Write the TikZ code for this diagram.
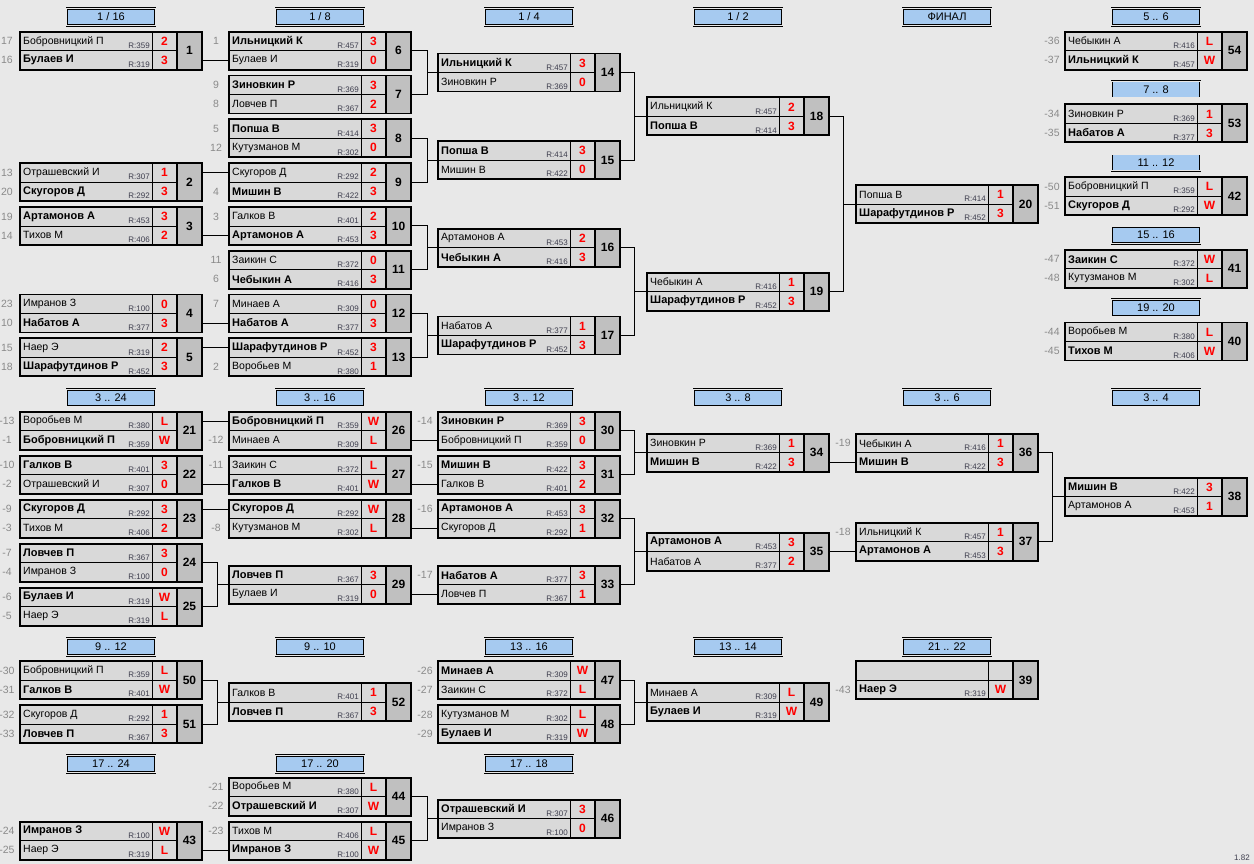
\documentclass[tikz,border=0pt]{standalone}
\usepackage{fontspec}
\setmainfont{Liberation Sans}
\usetikzlibrary{positioning}

\definecolor{bgcol}{HTML}{E8E8E8}
\definecolor{cellcol}{HTML}{D9D9D9}
\definecolor{numcol}{HTML}{C0C0C0}
\definecolor{hdrcol}{HTML}{A6CAF0}
\definecolor{seedcol}{HTML}{8A8A8A}
\definecolor{ratcol}{HTML}{3C3C4C}

\tikzset{
  mbox/.style={rectangle, minimum width=182pt, minimum height=38pt, inner sep=0pt, outer sep=0pt},
  namecell/.style={rectangle, draw=black, line width=0.8pt, fill=cellcol, minimum width=132pt, minimum height=19pt, inner sep=0pt, outer sep=0pt},
  scorecell/.style={rectangle, draw=black, line width=0.8pt, fill=cellcol, minimum width=25pt, minimum height=19pt, inner sep=0pt, outer sep=0pt},
  numcell/.style={rectangle, draw=black, line width=1.8pt, fill=numcol, minimum width=25pt, minimum height=38pt, inner sep=0pt, outer sep=0pt, font=\fontsize{12}{13}\selectfont\bfseries},
  boxline/.style={draw=black, line width=1.8pt},
  pname/.style={anchor=west, inner sep=0pt, font=\fontsize{10.5}{12}\selectfont},
  pwin/.style={anchor=west, inner sep=0pt, font=\fontsize{11}{12}\selectfont\bfseries},
  rating/.style={anchor=south east, inner sep=0pt, text=ratcol, font=\fontsize{8}{9}\selectfont},
  score/.style={inner sep=0pt, text=red, font=\fontsize{12}{13}\selectfont\bfseries},
  seednum/.style={inner sep=0pt, text=seedcol, font=\fontsize{10.5}{12}\selectfont},
  hdr/.style={rectangle, draw=black, line width=0.6pt, double=bgcol, double distance=1.2pt, fill=hdrcol, minimum width=88.5pt, minimum height=16.8pt, inner sep=0pt, font=\fontsize{11}{12}\selectfont},
  conn/.style={draw=black, line width=0.9pt}
}

% match box: id, x, y (top left), number
\newcommand{\match}[4]{%
  \node[mbox, anchor=north west] (#1) at (#2,#3) {};
  \node[namecell, anchor=north west] (#1a) at (#1.north west) {};
  \node[namecell, anchor=south west] (#1b) at (#1.south west) {};
  \node[scorecell, anchor=west] (#1as) at (#1a.east) {};
  \node[scorecell, anchor=west] (#1bs) at (#1b.east) {};
  \node[numcell, anchor=north east] (#1n) at (#1.north east) {#4};
  \draw[boxline] (#1.north west) rectangle (#1.south east);
}
% player rows: id, row, seed, name, rating, score
\newcommand{\pl}[6]{%
  \node[seednum] (#1#2k) at ([xshift=-13pt]#1#2.west) {#3};
  \node[pname] (#1#2t) at ([xshift=3pt]#1#2.west) {#4};
  \node[rating] (#1#2r) at ([xshift=-2pt,yshift=2pt]#1#2.south east) {R:#5};
  \node[score] (#1#2p) at (#1#2s) {#6};
}
\newcommand{\pw}[6]{%
  \node[seednum] (#1#2k) at ([xshift=-13pt]#1#2.west) {#3};
  \node[pwin] (#1#2t) at ([xshift=3pt]#1#2.west) {#4};
  \node[rating] (#1#2r) at ([xshift=-2pt,yshift=2pt]#1#2.south east) {R:#5};
  \node[score] (#1#2p) at (#1#2s) {#6};
}

\begin{document}
\begin{tikzpicture}[x=1pt, y=-1pt]
  \fill[bgcol] (0,0) rectangle (1254,864);
  \useasboundingbox (0,0) rectangle (1254,864);

  % headers
  \node[hdr] (h1) at (111,17) {1 / 16};
  \node[hdr] (h2) at (320,17) {1 / 8};
  \node[hdr] (h3) at (529,17) {1 / 4};
  \node[hdr] (h4) at (738,17) {1 / 2};
  \node[hdr] (h5) at (947,17) {ФИНАЛ};
  \node[hdr] (h6) at (1156,17) {5 .. 6};
  \node[hdr] (h7) at (1156,89.7) {7 .. 8};
  \node[hdr] (h8) at (1156,162.4) {11 .. 12};
  \node[hdr] (h9) at (1156,235.1) {15 .. 16};
  \node[hdr] (h10) at (1156,307.8) {19 .. 20};
  \node[hdr] (h11) at (111,397.7) {3 .. 24};
  \node[hdr] (h12) at (320,397.7) {3 .. 16};
  \node[hdr] (h13) at (529,397.7) {3 .. 12};
  \node[hdr] (h14) at (738,397.7) {3 .. 8};
  \node[hdr] (h15) at (947,397.7) {3 .. 6};
  \node[hdr] (h16) at (1156,397.7) {3 .. 4};
  \node[hdr] (h17) at (111,647) {9 .. 12};
  \node[hdr] (h18) at (320,647) {9 .. 10};
  \node[hdr] (h19) at (529,647) {13 .. 16};
  \node[hdr] (h20) at (738,647) {13 .. 14};
  \node[hdr] (h21) at (947,647) {21 .. 22};
  \node[hdr] (h22) at (111,764) {17 .. 24};
  \node[hdr] (h23) at (320,764) {17 .. 20};
  \node[hdr] (h24) at (529,764) {17 .. 18};

  % upper bracket
  \match{m1}{20}{31.7}{1}
  \pl{m1}{a}{17}{Бобровницкий П}{359}{2}
  \pw{m1}{b}{16}{Булаев И}{319}{3}
  \match{m2}{20}{163.1}{2}
  \pl{m2}{a}{13}{Отрашевский И}{307}{1}
  \pw{m2}{b}{20}{Скугоров Д}{292}{3}
  \match{m3}{20}{206.9}{3}
  \pw{m3}{a}{19}{Артамонов А}{453}{3}
  \pl{m3}{b}{14}{Тихов М}{406}{2}
  \match{m4}{20}{294.5}{4}
  \pl{m4}{a}{23}{Имранов З}{100}{0}
  \pw{m4}{b}{10}{Набатов А}{377}{3}
  \match{m5}{20}{338.3}{5}
  \pl{m5}{a}{15}{Наер Э}{319}{2}
  \pw{m5}{b}{18}{Шарафутдинов Р}{452}{3}

  \match{m6}{229}{31.7}{6}
  \pw{m6}{a}{1}{Ильницкий К}{457}{3}
  \pl{m6}{b}{}{Булаев И}{319}{0}
  \match{m7}{229}{75.5}{7}
  \pw{m7}{a}{9}{Зиновкин Р}{369}{3}
  \pl{m7}{b}{8}{Ловчев П}{367}{2}
  \match{m8}{229}{119.3}{8}
  \pw{m8}{a}{5}{Попша В}{414}{3}
  \pl{m8}{b}{12}{Кутузманов М}{302}{0}
  \match{m9}{229}{163.1}{9}
  \pl{m9}{a}{}{Скугоров Д}{292}{2}
  \pw{m9}{b}{4}{Мишин В}{422}{3}
  \match{m10}{229}{206.9}{10}
  \pl{m10}{a}{3}{Галков В}{401}{2}
  \pw{m10}{b}{}{Артамонов А}{453}{3}
  \match{m11}{229}{250.7}{11}
  \pl{m11}{a}{11}{Заикин С}{372}{0}
  \pw{m11}{b}{6}{Чебыкин А}{416}{3}
  \match{m12}{229}{294.5}{12}
  \pl{m12}{a}{7}{Минаев А}{309}{0}
  \pw{m12}{b}{}{Набатов А}{377}{3}
  \match{m13}{229}{338.3}{13}
  \pw{m13}{a}{}{Шарафутдинов Р}{452}{3}
  \pl{m13}{b}{2}{Воробьев М}{380}{1}

  \match{m14}{438}{53.6}{14}
  \pw{m14}{a}{}{Ильницкий К}{457}{3}
  \pl{m14}{b}{}{Зиновкин Р}{369}{0}
  \match{m15}{438}{141.2}{15}
  \pw{m15}{a}{}{Попша В}{414}{3}
  \pl{m15}{b}{}{Мишин В}{422}{0}
  \match{m16}{438}{228.8}{16}
  \pl{m16}{a}{}{Артамонов А}{453}{2}
  \pw{m16}{b}{}{Чебыкин А}{416}{3}
  \match{m17}{438}{316.4}{17}
  \pl{m17}{a}{}{Набатов А}{377}{1}
  \pw{m17}{b}{}{Шарафутдинов Р}{452}{3}

  \match{m18}{647}{97.4}{18}
  \pl{m18}{a}{}{Ильницкий К}{457}{2}
  \pw{m18}{b}{}{Попша В}{414}{3}
  \match{m19}{647}{272.6}{19}
  \pl{m19}{a}{}{Чебыкин А}{416}{1}
  \pw{m19}{b}{}{Шарафутдинов Р}{452}{3}

  \match{m20}{856}{185}{20}
  \pl{m20}{a}{}{Попша В}{414}{1}
  \pw{m20}{b}{}{Шарафутдинов Р}{452}{3}

  % places 5..20
  \match{m54}{1065}{31.7}{54}
  \pl{m54}{a}{-36}{Чебыкин А}{416}{L}
  \pw{m54}{b}{-37}{Ильницкий К}{457}{W}
  \match{m53}{1065}{104.4}{53}
  \pl{m53}{a}{-34}{Зиновкин Р}{369}{1}
  \pw{m53}{b}{-35}{Набатов А}{377}{3}
  \match{m42}{1065}{177.1}{42}
  \pl{m42}{a}{-50}{Бобровницкий П}{359}{L}
  \pw{m42}{b}{-51}{Скугоров Д}{292}{W}
  \match{m41}{1065}{249.8}{41}
  \pw{m41}{a}{-47}{Заикин С}{372}{W}
  \pl{m41}{b}{-48}{Кутузманов М}{302}{L}
  \match{m40}{1065}{322.5}{40}
  \pl{m40}{a}{-44}{Воробьев М}{380}{L}
  \pw{m40}{b}{-45}{Тихов М}{406}{W}

  % lower bracket
  \match{m21}{20}{411.7}{21}
  \pl{m21}{a}{-13}{Воробьев М}{380}{L}
  \pw{m21}{b}{-1}{Бобровницкий П}{359}{W}
  \match{m22}{20}{455.7}{22}
  \pw{m22}{a}{-10}{Галков В}{401}{3}
  \pl{m22}{b}{-2}{Отрашевский И}{307}{0}
  \match{m23}{20}{499.7}{23}
  \pw{m23}{a}{-9}{Скугоров Д}{292}{3}
  \pl{m23}{b}{-3}{Тихов М}{406}{2}
  \match{m24}{20}{543.7}{24}
  \pw{m24}{a}{-7}{Ловчев П}{367}{3}
  \pl{m24}{b}{-4}{Имранов З}{100}{0}
  \match{m25}{20}{587.7}{25}
  \pw{m25}{a}{-6}{Булаев И}{319}{W}
  \pl{m25}{b}{-5}{Наер Э}{319}{L}

  \match{m26}{229}{411.7}{26}
  \pw{m26}{a}{}{Бобровницкий П}{359}{W}
  \pl{m26}{b}{-12}{Минаев А}{309}{L}
  \match{m27}{229}{455.7}{27}
  \pl{m27}{a}{-11}{Заикин С}{372}{L}
  \pw{m27}{b}{}{Галков В}{401}{W}
  \match{m28}{229}{499.7}{28}
  \pw{m28}{a}{}{Скугоров Д}{292}{W}
  \pl{m28}{b}{-8}{Кутузманов М}{302}{L}
  \match{m29}{229}{565.7}{29}
  \pw{m29}{a}{}{Ловчев П}{367}{3}
  \pl{m29}{b}{}{Булаев И}{319}{0}

  \match{m30}{438}{411.7}{30}
  \pw{m30}{a}{-14}{Зиновкин Р}{369}{3}
  \pl{m30}{b}{}{Бобровницкий П}{359}{0}
  \match{m31}{438}{455.7}{31}
  \pw{m31}{a}{-15}{Мишин В}{422}{3}
  \pl{m31}{b}{}{Галков В}{401}{2}
  \match{m32}{438}{499.7}{32}
  \pw{m32}{a}{-16}{Артамонов А}{453}{3}
  \pl{m32}{b}{}{Скугоров Д}{292}{1}
  \match{m33}{438}{565.7}{33}
  \pw{m33}{a}{-17}{Набатов А}{377}{3}
  \pl{m33}{b}{}{Ловчев П}{367}{1}

  \match{m34}{647}{433.7}{34}
  \pl{m34}{a}{}{Зиновкин Р}{369}{1}
  \pw{m34}{b}{}{Мишин В}{422}{3}
  \match{m35}{647}{532.7}{35}
  \pw{m35}{a}{}{Артамонов А}{453}{3}
  \pl{m35}{b}{}{Набатов А}{377}{2}

  \match{m36}{856}{433.7}{36}
  \pl{m36}{a}{-19}{Чебыкин А}{416}{1}
  \pw{m36}{b}{}{Мишин В}{422}{3}
  \match{m37}{856}{522.7}{37}
  \pl{m37}{a}{-18}{Ильницкий К}{457}{1}
  \pw{m37}{b}{}{Артамонов А}{453}{3}

  \match{m38}{1065}{477.7}{38}
  \pw{m38}{a}{}{Мишин В}{422}{3}
  \pl{m38}{b}{}{Артамонов А}{453}{1}

  % places 9..24
  \match{m50}{20}{661}{50}
  \pl{m50}{a}{-30}{Бобровницкий П}{359}{L}
  \pw{m50}{b}{-31}{Галков В}{401}{W}
  \match{m51}{20}{705}{51}
  \pl{m51}{a}{-32}{Скугоров Д}{292}{1}
  \pw{m51}{b}{-33}{Ловчев П}{367}{3}
  \match{m52}{229}{683}{52}
  \pl{m52}{a}{}{Галков В}{401}{1}
  \pw{m52}{b}{}{Ловчев П}{367}{3}

  \match{m47}{438}{661}{47}
  \pw{m47}{a}{-26}{Минаев А}{309}{W}
  \pl{m47}{b}{-27}{Заикин С}{372}{L}
  \match{m48}{438}{705}{48}
  \pl{m48}{a}{-28}{Кутузманов М}{302}{L}
  \pw{m48}{b}{-29}{Булаев И}{319}{W}
  \match{m49}{647}{683}{49}
  \pl{m49}{a}{}{Минаев А}{309}{L}
  \pw{m49}{b}{}{Булаев И}{319}{W}

  \match{m39}{856}{661}{39}
  \pw{m39}{b}{-43}{Наер Э}{319}{W}

  \match{m43}{20}{821.7}{43}
  \pw{m43}{a}{-24}{Имранов З}{100}{W}
  \pl{m43}{b}{-25}{Наер Э}{319}{L}
  \match{m44}{229}{777.7}{44}
  \pl{m44}{a}{-21}{Воробьев М}{380}{L}
  \pw{m44}{b}{-22}{Отрашевский И}{307}{W}
  \match{m45}{229}{821.7}{45}
  \pl{m45}{a}{-23}{Тихов М}{406}{L}
  \pw{m45}{b}{}{Имранов З}{100}{W}
  \match{m46}{438}{799.7}{46}
  \pw{m46}{a}{}{Отрашевский И}{307}{3}
  \pl{m46}{b}{}{Имранов З}{100}{0}

  % straight links
  \draw[conn] (m1n.east |- m6b.west) -- (m6b.west);
  \draw[conn] (m2n.east |- m9a.west) -- (m9a.west);
  \draw[conn] (m3n.east |- m10b.west) -- (m10b.west);
  \draw[conn] (m4n.east |- m12b.west) -- (m12b.west);
  \draw[conn] (m5n.east |- m13a.west) -- (m13a.west);
  \draw[conn] (m21n.east |- m26a.west) -- (m26a.west);
  \draw[conn] (m22n.east |- m27b.west) -- (m27b.west);
  \draw[conn] (m23n.east |- m28a.west) -- (m28a.west);
  \draw[conn] (m26n.east |- m30b.west) -- (m30b.west);
  \draw[conn] (m27n.east |- m31b.west) -- (m31b.west);
  \draw[conn] (m28n.east |- m32b.west) -- (m32b.west);
  \draw[conn] (m29n.east |- m33b.west) -- (m33b.west);
  \draw[conn] (m34n.east |- m36b.west) -- (m36b.west);
  \draw[conn] (m35n.east |- m37b.west) -- (m37b.west);
  \draw[conn] (m43n.east |- m45b.west) -- (m45b.west);

  % bracket links
  \draw[conn] (m6n.east) -- ++(16,0) |- (m7n.east);   \draw[conn] (m14.west) -- ++(-11,0);
  \draw[conn] (m8n.east) -- ++(16,0) |- (m9n.east);   \draw[conn] (m15.west) -- ++(-11,0);
  \draw[conn] (m10n.east) -- ++(16,0) |- (m11n.east); \draw[conn] (m16.west) -- ++(-11,0);
  \draw[conn] (m12n.east) -- ++(16,0) |- (m13n.east); \draw[conn] (m17.west) -- ++(-11,0);
  \draw[conn] (m14n.east) -- ++(14,0) |- (m15n.east); \draw[conn] (m18.west) -- ++(-13,0);
  \draw[conn] (m16n.east) -- ++(14,0) |- (m17n.east); \draw[conn] (m19.west) -- ++(-13,0);
  \draw[conn] (m18n.east) -- ++(14,0) |- (m19n.east); \draw[conn] (m20.west) -- ++(-13,0);
  \draw[conn] (m24n.east) -- ++(15,0) |- (m25n.east); \draw[conn] (m29.west) -- ++(-12,0);
  \draw[conn] (m30n.east) -- ++(14,0) |- (m31n.east); \draw[conn] (m34.west) -- ++(-13,0);
  \draw[conn] (m32n.east) -- ++(14,0) |- (m33n.east); \draw[conn] (m35.west) -- ++(-13,0);
  \draw[conn] (m36n.east) -- ++(14,0) |- (m37n.east); \draw[conn] (m38.west) -- ++(-13,0);
  \draw[conn] (m50n.east) -- ++(15,0) |- (m51n.east); \draw[conn] (m52.west) -- ++(-12,0);
  \draw[conn] (m47n.east) -- ++(14,0) |- (m48n.east); \draw[conn] (m49.west) -- ++(-13,0);
  \draw[conn] (m44n.east) -- ++(16,0) |- (m45n.east); \draw[conn] (m46.west) -- ++(-11,0);

  \node[rating, anchor=east] (ver) at (1250,858) {1.82};
\end{tikzpicture}
\end{document}
